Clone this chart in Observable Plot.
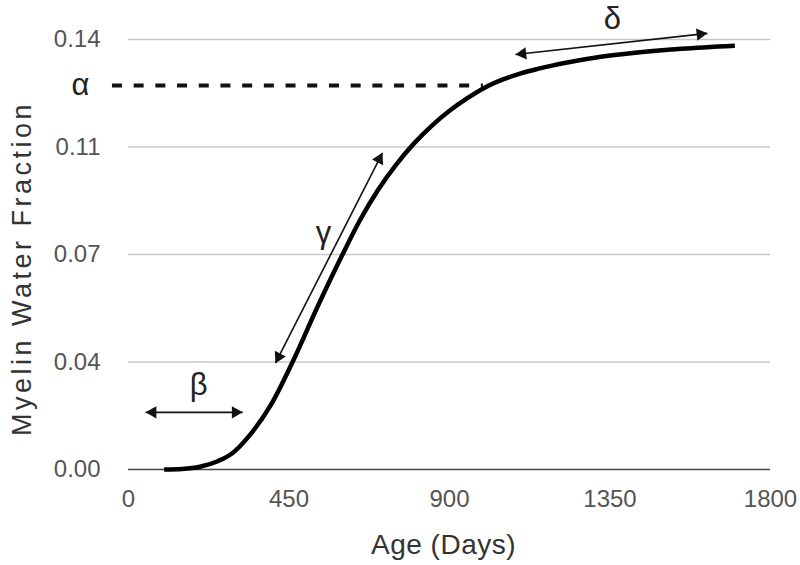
<!DOCTYPE html>
<html>
<head>
<meta charset="utf-8">
<script src="https://cdn.jsdelivr.net/npm/d3@7"></script>
<script src="https://cdn.jsdelivr.net/npm/@observablehq/plot@0.6"></script>
<style>
  html, body { margin: 0; padding: 0; background: #fff; }
</style>
</head>
<body>
<div id="chart"></div>
<script>
// ---- Data ----
const ageDays        = [100, 150, 200, 250, 290, 340, 400, 460, 530, 600, 650, 700, 750, 800, 850, 900, 950, 1000, 1050, 1100, 1150, 1230, 1320, 1420, 1550, 1700];
const myelinFraction = [0.0000, 0.0002, 0.0009, 0.0027, 0.0052, 0.0112, 0.0212, 0.0350, 0.0530, 0.0700, 0.0814, 0.0911, 0.0992, 0.1061, 0.1119, 0.1168, 0.1209, 0.1244, 0.1270, 0.1290, 0.1305, 0.1325, 0.1343, 0.1357, 0.1370, 0.1380];

const xTicks = [0, 450, 900, 1350, 1800];
const xTickLabels = ["0", "450", "900", "1350", "1800"];
const yTicks = [0, 0.035, 0.07, 0.105, 0.14];
const yTickLabels = ["0.00", "0.04", "0.07", "0.11", "0.14"];

const xLabel = "Age (Days)";
const yLabel = "Myelin Water Fraction";

// alpha plateau (dashed line)
const alphaLevel = 0.125;
const alphaStart = -45;
const alphaEnd = 995;

// double-headed annotation arrows (beta, gamma, delta)
const arrowNames = ["β", "γ", "δ"];
const arrowX1 = [48, 412, 1085];
const arrowY1 = [0.0186, 0.0346, 0.1351];
const arrowX2 = [320, 712, 1623];
const arrowY2 = [0.0186, 0.1031, 0.1420];

// parameter labels
const paramLabels = ["β", "γ", "δ", "α"];
const paramX = [197, 547, 1357, -135];
const paramY = [0.0274, 0.077, 0.1465, 0.125];

// ---- Build tables ----
const curve = ageDays.map((d, i) => ({age: d, mwf: myelinFraction[i]}));
const arrows = arrowNames.map((n, i) => ({name: n, x1: arrowX1[i], y1: arrowY1[i], x2: arrowX2[i], y2: arrowY2[i]}));
const params = paramLabels.map((t, i) => ({t, x: paramX[i], y: paramY[i]}));
const alpha = [{y: alphaLevel, x1: alphaStart, x2: alphaEnd}];

const FONT = "'Liberation Sans', Arial, Helvetica, sans-serif";

const base = {
  width: 800,
  height: 565,
  marginLeft: 128,
  marginRight: 30,
  marginTop: 39,
  marginBottom: 96,
  x: {domain: [0, 1800]},
  y: {domain: [0, 0.14]},
  style: {fontFamily: FONT, color: "#555", background: "#fff"}
};

// probe to get the scales for arrowhead orientation
const probe = Plot.plot({...base, marks: [Plot.line(curve, {x: "age", y: "mwf"})]});
const sx = probe.scale("x"), sy = probe.scale("y");

const headR = 4.6;
const headSize = Math.PI * headR * headR;
const tipDist = 2 * Math.sqrt(headSize / (3 * Math.sqrt(3)));
const heads = [];
arrows.forEach(a => {
  const ends = [[a.x2, a.y2, a.x1, a.y1], [a.x1, a.y1, a.x2, a.y2]];
  ends.forEach(([tx, ty, ox, oy]) => {
    const px = sx.apply(tx), py = sy.apply(ty);
    const qx = sx.apply(ox), qy = sy.apply(oy);
    const len = Math.hypot(px - qx, py - qy);
    const ux = (px - qx) / len, uy = (py - qy) / len;
    const cx = px - ux * tipDist, cy = py - uy * tipDist;
    heads.push({x: sx.invert(cx), y: sy.invert(cy), rot: Math.atan2(ux, -uy) * 180 / Math.PI});
  });
});

const chart = Plot.plot({
  ...base,
  marks: [
    Plot.gridY(yTicks.slice(1), {stroke: "#c8c8c8", strokeOpacity: 1, strokeWidth: 1.3}),
    Plot.ruleY([0], {stroke: "#444", strokeWidth: 1.6}),
    Plot.axisX(xTicks, {tickSize: 0, tickPadding: 20, label: null, fill: "#555", fontSize: 24,
      tickFormat: d => xTickLabels[xTicks.indexOf(d)]}),
    Plot.axisY(yTicks, {tickSize: 0, tickPadding: 28, label: null, fill: "#555", fontSize: 24,
      tickFormat: d => yTickLabels[yTicks.indexOf(d)]}),
    Plot.ruleY(alpha, {y: "y", x1: "x1", x2: "x2", stroke: "#111", strokeWidth: 4, strokeDasharray: "10,11.7"}),
    Plot.line(curve, {x: "age", y: "mwf", curve: "monotone-x", stroke: "#000", strokeWidth: 4.5, strokeLinecap: "butt"}),
    Plot.link(arrows, {x1: "x1", y1: "y1", x2: "x2", y2: "y2", stroke: "#111", strokeWidth: 1.6}),
    Plot.dot(heads, {x: "x", y: "y", r: headR, symbol: "triangle", rotate: "rot", fill: "#111", stroke: "none"}),
    Plot.text(params, {x: "x", y: "y", text: "t", fontSize: 31, fill: "#222", fontFamily: FONT}),
    Plot.text([xLabel], {frameAnchor: "bottom", textAnchor: "middle", lineAnchor: "middle", dx: -6, dy: 76, fontSize: 28, fill: "#333", fontFamily: FONT}),
    Plot.text([yLabel], {frameAnchor: "left", textAnchor: "middle", lineAnchor: "middle", rotate: -90, dx: -106, dy: 14, fontSize: 27, fill: "#333", fontFamily: FONT})
  ]
});

// slight letter spacing on the axis titles to match the reference's wide type
d3.select(chart).selectAll("text").filter(function() { return this.textContent === yLabel; }).attr("letter-spacing", "3.5");
d3.select(chart).selectAll("text").filter(function() { return this.textContent === xLabel; }).attr("letter-spacing", "0.5");

document.getElementById("chart").appendChild(chart);
</script>
</body>
</html>
